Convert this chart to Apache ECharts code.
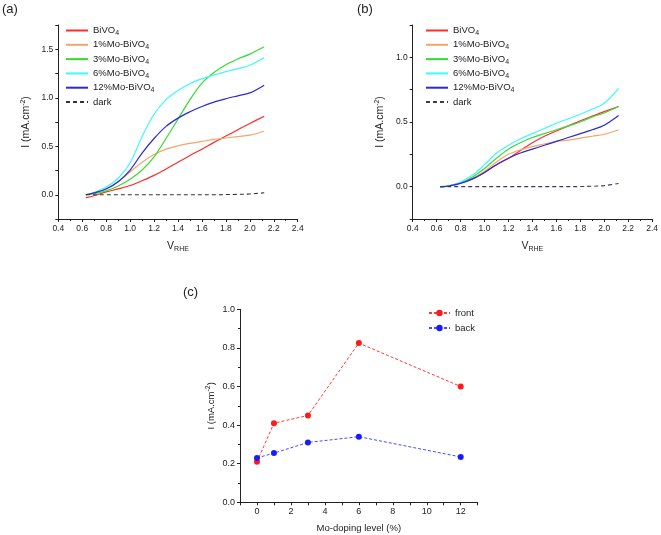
<!DOCTYPE html>
<html><head><meta charset="utf-8">
<script src="https://cdn.jsdelivr.net/npm/echarts@6/dist/echarts.min.js"></script>
<style>html,body{margin:0;padding:0;background:#fff}#c{width:661px;height:535px}</style>
</head><body><div id="c"></div>
<script>
// ---------- data ----------
const seriesNames = ['BiVO4', '1%Mo-BiVO4', '3%Mo-BiVO4', '6%Mo-BiVO4', '12%Mo-BiVO4', 'dark'];
const vPoints = [0.63, 0.7, 0.8, 0.9, 1.0, 1.1, 1.2, 1.3, 1.4, 1.5, 1.6, 1.7, 1.8, 1.9, 2.0, 2.12];

// panel (a) - front
const aBiVO4 = [-0.03, -0.01, 0.03, 0.06, 0.095, 0.145, 0.2, 0.265, 0.335, 0.405, 0.47, 0.54, 0.605, 0.67, 0.735, 0.81];
const a1Mo   = [0, 0.02, 0.065, 0.135, 0.235, 0.335, 0.415, 0.47, 0.505, 0.53, 0.55, 0.57, 0.585, 0.60, 0.615, 0.655];
const a3Mo   = [0, 0.01, 0.04, 0.09, 0.16, 0.255, 0.39, 0.58, 0.78, 0.98, 1.15, 1.26, 1.34, 1.40, 1.45, 1.525];
const a6Mo   = [0, 0.025, 0.08, 0.17, 0.33, 0.6, 0.83, 0.98, 1.075, 1.145, 1.195, 1.235, 1.27, 1.30, 1.335, 1.415];
const a12Mo  = [0, 0.02, 0.06, 0.135, 0.255, 0.43, 0.58, 0.705, 0.79, 0.855, 0.91, 0.955, 0.99, 1.02, 1.05, 1.13];
const aDark  = [0, 0, 0, 0, 0, 0, 0, 0, 0, 0, 0, 0, 0.002, 0.004, 0.008, 0.02];

// panel (b) - back
const bBiVO4 = [0, 0.005, 0.03, 0.06, 0.11, 0.17, 0.22, 0.28, 0.34, 0.39, 0.43, 0.47, 0.51, 0.545, 0.58, 0.62];
const b1Mo   = [0, 0.008, 0.03, 0.065, 0.12, 0.19, 0.25, 0.285, 0.31, 0.33, 0.35, 0.36, 0.375, 0.39, 0.405, 0.44];
const b3Mo   = [-0.005, 0.005, 0.03, 0.075, 0.14, 0.22, 0.29, 0.34, 0.38, 0.41, 0.44, 0.47, 0.50, 0.54, 0.57, 0.62];
const b6Mo   = [-0.005, 0.005, 0.035, 0.09, 0.17, 0.26, 0.32, 0.37, 0.41, 0.45, 0.49, 0.525, 0.56, 0.6, 0.645, 0.76];
const b12Mo  = [0, 0.005, 0.025, 0.06, 0.11, 0.17, 0.22, 0.26, 0.29, 0.32, 0.35, 0.38, 0.41, 0.44, 0.475, 0.55];
const bDark  = [0, 0, 0, 0, 0, 0, 0, 0, 0, 0, 0, 0, 0.001, 0.003, 0.008, 0.025];

// panel (c)
const dopingLevels = [0, 1, 3, 6, 12];
const frontValues = [0.21, 0.41, 0.45, 0.825, 0.60];
const backValues  = [0.23, 0.255, 0.31, 0.34, 0.235];

// tick labels
const xTicksAB = [0.4, 0.6, 0.8, 1.0, 1.2, 1.4, 1.6, 1.8, 2.0, 2.2, 2.4];
const yTicksA = [0, 0.5, 1.0, 1.5];
const yTicksB = [0, 0.5, 1.0];
const xTicksC = [0, 2, 4, 6, 8, 10, 12];

// ---------- styling ----------
const colors = ['#ff2a2a', '#f5a468', '#33dd33', '#3ff8f8', '#2a2ad6', '#333333'];
const FONT = 'Liberation Sans, Arial, sans-serif';
const TXT = '#222';

const aSets = [aBiVO4, a1Mo, a3Mo, a6Mo, a12Mo, aDark];
const bSets = [bBiVO4, b1Mo, b3Mo, b6Mo, b12Mo, bDark];

function pairs(xs, ys) { return xs.map((x, i) => [x, ys[i]]); }

const series = [];
['a', 'b'].forEach((p, gi) => {
  const sets = p === 'a' ? aSets : bSets;
  seriesNames.forEach((n, i) => {
    const isDark = n === 'dark';
    const col = (isDark && p === 'b') ? '#3a3a5a' : colors[i];
    series.push({
      type: 'line', name: p + '|' + n, xAxisIndex: gi, yAxisIndex: gi,
      data: pairs(vPoints, sets[i]), smooth: 0.35, symbol: 'none', silent: true,
      color: col,
      lineStyle: { width: isDark ? 1.1 : 1.2, type: isDark ? [4, 3] : 'solid', color: col }
    });
  });
});
series.push({
  type: 'line', name: 'front', xAxisIndex: 2, yAxisIndex: 2,
  data: pairs(dopingLevels, frontValues), symbol: 'circle', symbolSize: 6,
  color: '#ff1a1a', itemStyle: { color: '#ff1a1a' },
  lineStyle: { width: 1, type: [3, 2], color: '#ff3a3a' }
});
series.push({
  type: 'line', name: 'back', xAxisIndex: 2, yAxisIndex: 2,
  data: pairs(dopingLevels, backValues), symbol: 'circle', symbolSize: 6,
  color: '#1a1aff', itemStyle: { color: '#1a1aff' },
  lineStyle: { width: 1, type: [3, 2], color: '#4a4aff' }
});

const isTick = (arr) => (v) => arr.some(t => Math.abs(t - v) < 1e-6);

const nameRich = {
  sub: { fontSize: 7, fontFamily: FONT, color: TXT, padding: [6, 0, 0, 0] },
  sup: { fontSize: 7, fontFamily: FONT, color: TXT, padding: [0, 0, 6, 0] }
};

function xAB(gi) {
  return {
    type: 'value', gridIndex: gi, min: 0.4, max: 2.4, interval: 0.2,
    axisLine: { onZero: false, lineStyle: { color: '#222', width: 1 } },
    axisTick: { length: 3, lineStyle: { color: '#222' } },
    minorTick: { show: true, splitNumber: 2, length: 2, lineStyle: { color: '#222' } },
    splitLine: { show: false },
    axisLabel: { fontSize: 8.5, fontFamily: FONT, color: TXT, margin: 5,
      formatter: v => isTick(xTicksAB)(v) ? v.toFixed(1) : '' },
    name: 'V{sub|RHE}', nameLocation: 'middle', nameGap: 21,
    nameTextStyle: { fontSize: 10.5, fontFamily: FONT, color: TXT, rich: nameRich }
  };
}
function yAB(gi, max, ticks) {
  return {
    type: 'value', gridIndex: gi, min: -0.25, max: max, interval: 0.25,
    axisLine: { onZero: false, lineStyle: { color: '#222', width: 1 } },
    axisTick: { length: 3, lineStyle: { color: '#222' } },
    splitLine: { show: false },
    axisLabel: { fontSize: 8.5, fontFamily: FONT, color: TXT, margin: 5,
      formatter: v => isTick(ticks)(v) ? v.toFixed(1) : '' },
    name: 'I (mA.cm{sup|-2})', nameLocation: 'middle', nameGap: 26,
    nameTextStyle: { fontSize: 10.5, fontFamily: FONT, color: TXT, rich: nameRich }
  };
}

function legendFor(p, left) {
  return {
    orient: 'vertical', left: left, top: 24.5, selectedMode: false,
    data: seriesNames.map(n => p + '|' + n),
    itemWidth: 22, itemHeight: 10, itemGap: 2.3, padding: 0,
    itemStyle: { opacity: 0 },
    formatter: name => name.split('|')[1].replace('BiVO4', 'BiVO{sub|4}'),
    textStyle: { fontSize: 9.5, fontFamily: FONT, color: TXT, lineHeight: 12,
      rich: { sub: { fontSize: 7, fontFamily: FONT, color: TXT, padding: [5, 0, 0, 0] } } }
  };
}

const option = {
  animation: false,
  backgroundColor: '#fff',
  grid: [
    { left: 58.3, top: 25, right: 363.3, bottom: 316 },
    { left: 412.7, top: 25, right: 7.7, bottom: 316 },
    { left: 240, top: 309.3, right: 183.3, bottom: 32.7 }
  ],
  xAxis: [
    xAB(0), xAB(1),
    {
      type: 'value', gridIndex: 2, min: -1, max: 13, interval: 1,
      axisLine: { onZero: false, lineStyle: { color: '#222', width: 1 } },
      axisTick: { length: 3, lineStyle: { color: '#222' } },
      splitLine: { show: false },
      axisLabel: { fontSize: 9, fontFamily: FONT, color: TXT, margin: 5,
        formatter: v => isTick(xTicksC)(v) ? String(v) : '' },
      name: 'Mo-doping level (%)', nameLocation: 'middle', nameGap: 21,
      nameTextStyle: { fontSize: 9.5, fontFamily: FONT, color: TXT }
    }
  ],
  yAxis: [
    yAB(0, 1.75, yTicksA), yAB(1, 1.25, yTicksB),
    {
      type: 'value', gridIndex: 2, min: 0, max: 1, interval: 0.2,
      axisLine: { onZero: false, lineStyle: { color: '#222', width: 1 } },
      axisTick: { length: 3, lineStyle: { color: '#222' } },
      minorTick: { show: true, splitNumber: 2, length: 2, lineStyle: { color: '#222' } },
      splitLine: { show: false },
      axisLabel: { fontSize: 9, fontFamily: FONT, color: TXT, margin: 5,
        formatter: v => v.toFixed(1) },
      name: 'I (mA.cm{sup|-2})', nameLocation: 'middle', nameGap: 22,
      nameTextStyle: { fontSize: 9.5, fontFamily: FONT, color: TXT, rich: nameRich }
    }
  ],
  legend: [
    legendFor('a', 65),
    legendFor('b', 425),
    {
      orient: 'vertical', left: 428, top: 308, selectedMode: false,
      data: ['front', 'back'], itemWidth: 21, itemHeight: 8, itemGap: 5, padding: 0,
      textStyle: { fontSize: 9.5, fontFamily: FONT, color: TXT }
    }
  ],
  graphic: [
    { type: 'text', left: 2, top: 3, style: { text: '(a)', font: '13px ' + FONT, fill: TXT } },
    { type: 'text', left: 357, top: 3, style: { text: '(b)', font: '13px ' + FONT, fill: TXT } },
    { type: 'text', left: 183, top: 286, style: { text: '(c)', font: '13px ' + FONT, fill: TXT } }
  ],
  series: series
};

const chart = echarts.init(document.getElementById('c'), null, { renderer: 'canvas' });
chart.setOption(option);
</script>
</body></html>
